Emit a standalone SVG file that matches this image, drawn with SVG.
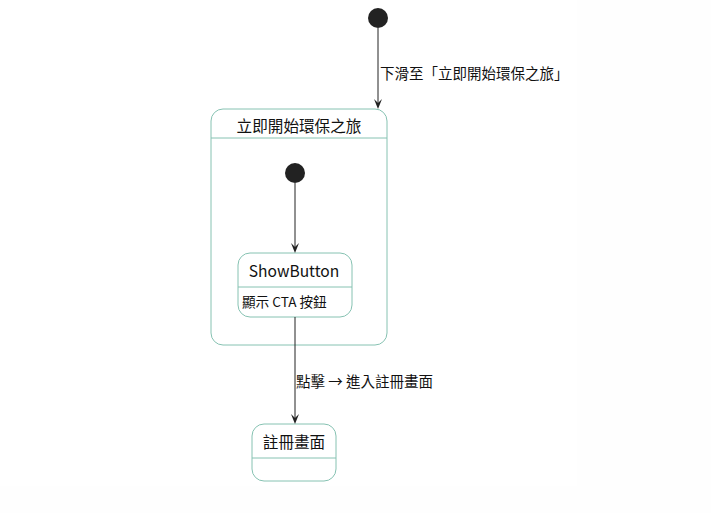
<svg xmlns="http://www.w3.org/2000/svg" width="711" height="513" viewBox="0 0 711 513">
<defs>
<style>
.state{fill:#ffffff;stroke:#86c2b2;stroke-width:1}
.div{stroke:#86c2b2;stroke-width:1}
.init{fill:#222222}
.edge{stroke:#222222;stroke-width:1;fill:none}
.head{fill:#222222}
text{font-family:"Noto Sans CJK TC","Noto Sans",sans-serif;fill:#111111}
.t16{font-size:15.6px}
.t14{font-size:14.5px}
.t13{font-size:13.6px}
</style>
</defs>
<rect x="0" y="0" width="711" height="513" fill="#fefefe"/>
<rect x="0" y="0" width="577" height="486" fill="#ffffff"/>
<g id="start">
<circle class="init" cx="378" cy="18" r="10"/>
</g>
<g id="composite">
<rect class="state" x="211" y="109" width="176" height="236" rx="12" ry="12"/>
<line class="div" x1="211" y1="138" x2="387" y2="138"/>
<text class="t16" x="299" y="132" text-anchor="middle">立即開始環保之旅</text>
</g>
<g id="innerStart">
<circle class="init" cx="295" cy="173" r="10"/>
</g>
<g id="ShowButton">
<rect class="state" x="238" y="253" width="114" height="64" rx="12" ry="12"/>
<line class="div" x1="238" y1="287" x2="352" y2="287"/>
<text class="t16" x="294" y="277" text-anchor="middle">ShowButton</text>
<text class="t13" x="242" y="307">顯示 CTA 按鈕</text>
</g>
<g id="register">
<rect class="state" x="252" y="424" width="84" height="57" rx="12" ry="12"/>
<line class="div" x1="252" y1="458" x2="336" y2="458"/>
<text class="t16" x="294" y="448" text-anchor="middle">註冊畫面</text>
</g>
<g id="connectors">
<g id="e1">
<line class="edge" x1="378" y1="28" x2="378" y2="106"/>
<path class="head" d="M374,99 L378,109 L382,99 L378,103 Z"/>
<text class="t14" x="380" y="79">下滑至「立即開始環保之旅」</text>
</g>
<g id="e2">
<line class="edge" x1="295" y1="183" x2="295" y2="250"/>
<path class="head" d="M291,243 L295,253 L299,243 L295,247 Z"/>
</g>
<g id="e3">
<line class="edge" x1="295" y1="317" x2="295" y2="421"/>
<path class="head" d="M291,414 L295,424 L299,414 L295,418 Z"/>
<text class="t14" x="296" y="387">點擊 → 進入註冊畫面</text>
</g>
</g>
</svg>
